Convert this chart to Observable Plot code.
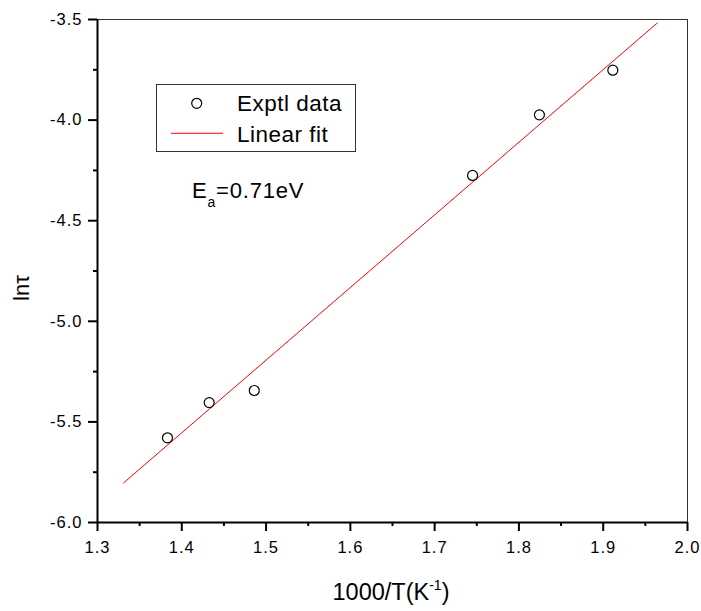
<!DOCTYPE html>
<html>
<head>
<meta charset="utf-8">
<script src="https://cdn.jsdelivr.net/npm/d3@7"></script>
<script src="https://cdn.jsdelivr.net/npm/@observablehq/plot@0.6"></script>
<style>
  body { margin: 0; background: #fff; }
  #chart { width: 701px; height: 611px; }
  #chart g[aria-label="x-axis tick"], #chart g[aria-label="y-axis tick"] { stroke: #000; stroke-width: 2px; }
</style>
</head>
<body>
<div id="chart"></div>
<script>
// Experimental data (1000/T, ln tau)
const invT = [1.383, 1.4325, 1.486, 1.745, 1.8243, 1.9114];
const lnTau = [-5.579, -5.404, -5.344, -4.275, -3.974, -3.752];
// Linear fit endpoints
const fitX = [1.331, 1.964];
const fitY = [-5.803, -3.518];
// Ticks
const xMajor = [1.3, 1.4, 1.5, 1.6, 1.7, 1.8, 1.9, 2.0];
const xMinor = [1.35, 1.45, 1.55, 1.65, 1.75, 1.85, 1.95];
const yMajor = [-6.0, -5.5, -5.0, -4.5, -4.0, -3.5];
const yMinor = [-5.75, -5.25, -4.75, -4.25, -3.75];

const pts = invT.map((x, i) => ({x, y: lnTau[i]}));
const fit = fitX.map((x, i) => ({x, y: fitY[i]}));

const chart = Plot.plot({
  width: 701,
  height: 611,
  marginLeft: 97,
  marginRight: 14,
  marginTop: 19,
  marginBottom: 89,
  style: {fontFamily: "'Liberation Sans', Arial, sans-serif", fontSize: "16.5px", color: "#000", background: "#fff"},
  x: {domain: [1.3, 2.0]},
  y: {domain: [-6.0, -3.5]},
  marks: [
    Plot.axisX({ticks: xMajor, tickSize: 9, tickPadding: 10, strokeWidth: 2, tickFormat: d => d.toFixed(1), label: null, fontSize: 16.5}),
    Plot.axisX({ticks: xMinor, tickSize: 4, strokeWidth: 2, tickFormat: null, text: null, label: null}),
    Plot.axisY({ticks: yMajor, tickSize: 9, tickPadding: 6, strokeWidth: 2, tickFormat: d => d.toFixed(1), label: null, fontSize: 16.5}),
    Plot.axisY({ticks: yMinor, tickSize: 4, strokeWidth: 2, tickFormat: null, text: null, label: null}),
    Plot.ruleY([-3.5], {stroke: "#333", strokeWidth: 1}),
    Plot.ruleX([2.0], {stroke: "#333", strokeWidth: 1}),
    Plot.ruleX([1.3], {stroke: "#000", strokeWidth: 2}),
    Plot.ruleY([-6.0], {stroke: "#000", strokeWidth: 2}),
    Plot.line(fit, {x: "x", y: "y", stroke: "#ff0000", strokeWidth: 1}),
    Plot.dot(pts, {x: "x", y: "y", r: 5, stroke: "#000", strokeWidth: 1.2, fill: "none"})
  ]
});

document.getElementById("chart").appendChild(chart);

const svg = d3.select(chart);
const font = "'Liberation Sans', Arial, sans-serif";

// Tick label styling (wider, like the reference)
svg.selectAll("text").style("font-size", "16.5px").style("letter-spacing", "1px")
  .style("fill", "#000").style("font-family", font);

// Legend
const lg = svg.append("g").attr("font-family", font).attr("fill", "#000").attr("text-anchor", "start");
lg.append("rect").attr("x", 156.5).attr("y", 84.5).attr("width", 199).attr("height", 67)
  .attr("fill", "#fff").attr("stroke", "#333").attr("stroke-width", 1);
lg.append("circle").attr("cx", 196.7).attr("cy", 103.3).attr("r", 5)
  .attr("fill", "none").attr("stroke", "#000").attr("stroke-width", 1.2);
lg.append("text").attr("x", 237).attr("y", 110.7).attr("font-size", 22.5).attr("letter-spacing", "0.5px")
  .attr("text-anchor", "start").text("Exptl data");
lg.append("line").attr("x1", 171).attr("x2", 223).attr("y1", 133.3).attr("y2", 133.3)
  .attr("stroke", "#ff0000").attr("stroke-width", 1);
lg.append("text").attr("x", 237).attr("y", 141.7).attr("font-size", 22.5).attr("letter-spacing", "0.5px")
  .attr("text-anchor", "start").text("Linear fit");

// Activation energy annotation
const ea = svg.append("text").attr("x", 192).attr("y", 198.3).attr("text-anchor", "start")
  .attr("font-family", font).attr("font-size", 22).attr("letter-spacing", "0.8px").attr("fill", "#000");
ea.append("tspan").text("E");
ea.append("tspan").attr("dy", 9).attr("font-size", 14).text("a");
ea.append("tspan").attr("dy", -9).text("=0.71eV");

// Axis titles
const xt = svg.append("text").attr("x", 391).attr("y", 600).attr("text-anchor", "middle")
  .attr("font-family", font).attr("font-size", 23.5).attr("fill", "#000");
xt.append("tspan").text("1000/T(K");
xt.append("tspan").attr("dy", -10).attr("font-size", 14).text("-1");
xt.append("tspan").attr("dy", 10).text(")");

svg.append("text").attr("transform", "translate(28.5,288) rotate(-90)").attr("text-anchor", "middle")
  .attr("font-family", font).attr("font-size", 22).attr("fill", "#000").text("lnτ");
</script>
</body>
</html>
